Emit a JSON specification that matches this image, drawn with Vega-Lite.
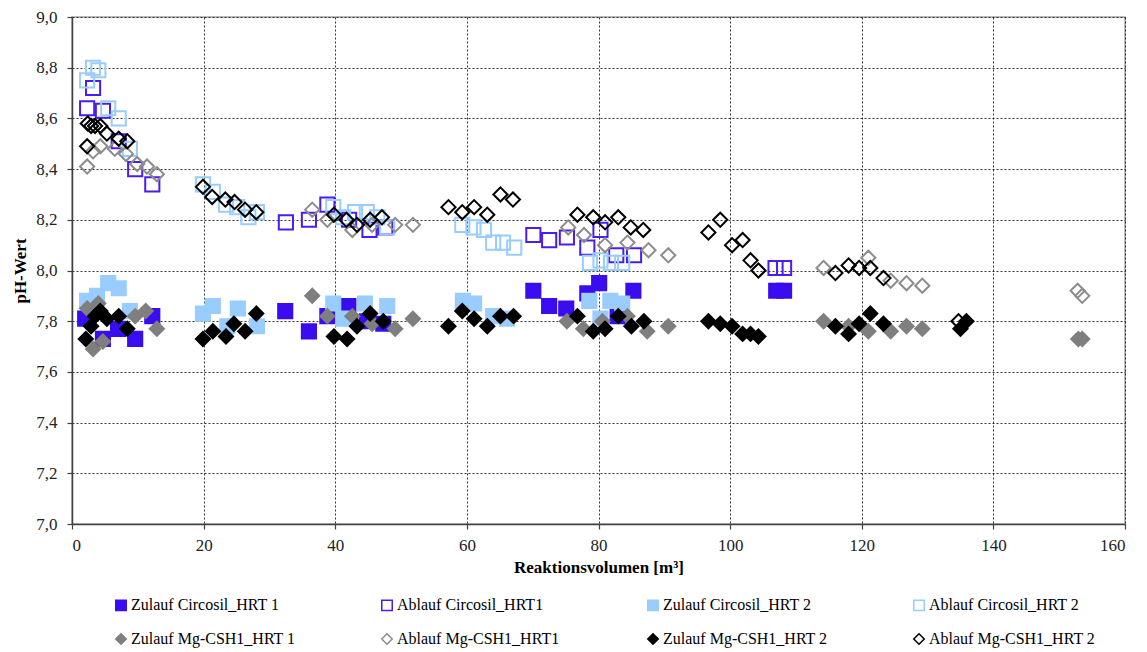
{
  "$schema": "https://vega.github.io/schema/vega-lite/v6.json",
  "width": 1053,
  "height": 507,
  "autosize": {"type": "none"},
  "padding": {"left": 72, "top": 17, "right": 22, "bottom": 128},
  "background": "white",
  "config": {
    "view": {"stroke": "#a6a6a6", "strokeWidth": 1.5},
    "font": "Liberation Serif",
    "axis": {
      "labelFont": "Liberation Serif",
      "labelFontSize": 17,
      "labelColor": "#222222",
      "titleFont": "Liberation Serif",
      "titleFontSize": 17,
      "titleFontWeight": "bold",
      "titleColor": "#000000",
      "domainColor": "#404040",
      "domainWidth": 1.5,
      "tickColor": "#404040",
      "tickSize": 5,
      "tickWidth": 1.2,
      "grid": true,
      "gridColor": "#000000",
      "gridDash": [2, 2],
      "gridWidth": 0.8,
      "gridOpacity": 1
    }
  },
  "data": {
    "values": [
      {"s": "Zulauf Circosil_HRT 1", "x": 2.0, "y": 7.81},
      {"s": "Zulauf Circosil_HRT 1", "x": 4.7, "y": 7.73},
      {"s": "Zulauf Circosil_HRT 1", "x": 7.0, "y": 7.77},
      {"s": "Zulauf Circosil_HRT 1", "x": 9.6, "y": 7.73},
      {"s": "Zulauf Circosil_HRT 1", "x": 12.2, "y": 7.82},
      {"s": "Zulauf Circosil_HRT 1", "x": 32.4, "y": 7.84},
      {"s": "Zulauf Circosil_HRT 1", "x": 36.0, "y": 7.76},
      {"s": "Zulauf Circosil_HRT 1", "x": 38.8, "y": 7.82},
      {"s": "Zulauf Circosil_HRT 1", "x": 42.0, "y": 7.86},
      {"s": "Zulauf Circosil_HRT 1", "x": 44.8, "y": 7.80},
      {"s": "Zulauf Circosil_HRT 1", "x": 47.3, "y": 7.79},
      {"s": "Zulauf Circosil_HRT 1", "x": 70.1, "y": 7.92},
      {"s": "Zulauf Circosil_HRT 1", "x": 72.5, "y": 7.86},
      {"s": "Zulauf Circosil_HRT 1", "x": 75.1, "y": 7.85},
      {"s": "Zulauf Circosil_HRT 1", "x": 78.3, "y": 7.91},
      {"s": "Zulauf Circosil_HRT 1", "x": 80.1, "y": 7.95},
      {"s": "Zulauf Circosil_HRT 1", "x": 82.9, "y": 7.82},
      {"s": "Zulauf Circosil_HRT 1", "x": 85.3, "y": 7.92},
      {"s": "Zulauf Circosil_HRT 1", "x": 107.0, "y": 7.92},
      {"s": "Zulauf Circosil_HRT 1", "x": 108.2, "y": 7.92},

      {"s": "Ablauf Circosil_HRT1", "x": 3.2, "y": 8.72},
      {"s": "Ablauf Circosil_HRT1", "x": 2.3, "y": 8.64},
      {"s": "Ablauf Circosil_HRT1", "x": 4.7, "y": 8.63},
      {"s": "Ablauf Circosil_HRT1", "x": 7.1, "y": 8.51},
      {"s": "Ablauf Circosil_HRT1", "x": 9.6, "y": 8.40},
      {"s": "Ablauf Circosil_HRT1", "x": 12.2, "y": 8.34},
      {"s": "Ablauf Circosil_HRT1", "x": 32.5, "y": 8.19},
      {"s": "Ablauf Circosil_HRT1", "x": 36.0, "y": 8.20},
      {"s": "Ablauf Circosil_HRT1", "x": 38.8, "y": 8.26},
      {"s": "Ablauf Circosil_HRT1", "x": 42.1, "y": 8.20},
      {"s": "Ablauf Circosil_HRT1", "x": 45.2, "y": 8.16},
      {"s": "Ablauf Circosil_HRT1", "x": 47.6, "y": 8.17},
      {"s": "Ablauf Circosil_HRT1", "x": 70.1, "y": 8.14},
      {"s": "Ablauf Circosil_HRT1", "x": 72.5, "y": 8.12},
      {"s": "Ablauf Circosil_HRT1", "x": 75.2, "y": 8.13},
      {"s": "Ablauf Circosil_HRT1", "x": 78.3, "y": 8.09},
      {"s": "Ablauf Circosil_HRT1", "x": 80.3, "y": 8.16},
      {"s": "Ablauf Circosil_HRT1", "x": 82.7, "y": 8.06},
      {"s": "Ablauf Circosil_HRT1", "x": 85.4, "y": 8.06},
      {"s": "Ablauf Circosil_HRT1", "x": 106.9, "y": 8.01},
      {"s": "Ablauf Circosil_HRT1", "x": 108.2, "y": 8.01},

      {"s": "Zulauf Circosil_HRT 2", "x": 2.3, "y": 7.88},
      {"s": "Zulauf Circosil_HRT 2", "x": 3.8, "y": 7.90},
      {"s": "Zulauf Circosil_HRT 2", "x": 5.5, "y": 7.95},
      {"s": "Zulauf Circosil_HRT 2", "x": 7.1, "y": 7.93},
      {"s": "Zulauf Circosil_HRT 2", "x": 8.8, "y": 7.84},
      {"s": "Zulauf Circosil_HRT 2", "x": 19.9, "y": 7.83},
      {"s": "Zulauf Circosil_HRT 2", "x": 21.4, "y": 7.86},
      {"s": "Zulauf Circosil_HRT 2", "x": 23.6, "y": 7.78},
      {"s": "Zulauf Circosil_HRT 2", "x": 25.2, "y": 7.85},
      {"s": "Zulauf Circosil_HRT 2", "x": 28.1, "y": 7.78},
      {"s": "Zulauf Circosil_HRT 2", "x": 39.7, "y": 7.87},
      {"s": "Zulauf Circosil_HRT 2", "x": 41.2, "y": 7.81},
      {"s": "Zulauf Circosil_HRT 2", "x": 44.5, "y": 7.87},
      {"s": "Zulauf Circosil_HRT 2", "x": 47.9, "y": 7.86},
      {"s": "Zulauf Circosil_HRT 2", "x": 59.4, "y": 7.88},
      {"s": "Zulauf Circosil_HRT 2", "x": 61.1, "y": 7.87},
      {"s": "Zulauf Circosil_HRT 2", "x": 64.0, "y": 7.82},
      {"s": "Zulauf Circosil_HRT 2", "x": 66.1, "y": 7.81},
      {"s": "Zulauf Circosil_HRT 2", "x": 78.6, "y": 7.88},
      {"s": "Zulauf Circosil_HRT 2", "x": 80.3, "y": 7.81},
      {"s": "Zulauf Circosil_HRT 2", "x": 81.8, "y": 7.88},
      {"s": "Zulauf Circosil_HRT 2", "x": 83.6, "y": 7.87},

      {"s": "Ablauf Circosil_HRT 2", "x": 2.3, "y": 8.75},
      {"s": "Ablauf Circosil_HRT 2", "x": 3.2, "y": 8.80},
      {"s": "Ablauf Circosil_HRT 2", "x": 4.0, "y": 8.79},
      {"s": "Ablauf Circosil_HRT 2", "x": 5.5, "y": 8.64},
      {"s": "Ablauf Circosil_HRT 2", "x": 7.1, "y": 8.60},
      {"s": "Ablauf Circosil_HRT 2", "x": 8.8, "y": 8.48},
      {"s": "Ablauf Circosil_HRT 2", "x": 19.9, "y": 8.34},
      {"s": "Ablauf Circosil_HRT 2", "x": 21.4, "y": 8.31},
      {"s": "Ablauf Circosil_HRT 2", "x": 23.4, "y": 8.26},
      {"s": "Ablauf Circosil_HRT 2", "x": 25.1, "y": 8.25},
      {"s": "Ablauf Circosil_HRT 2", "x": 26.8, "y": 8.21},
      {"s": "Ablauf Circosil_HRT 2", "x": 28.1, "y": 8.23},
      {"s": "Ablauf Circosil_HRT 2", "x": 39.7, "y": 8.25},
      {"s": "Ablauf Circosil_HRT 2", "x": 41.2, "y": 8.21},
      {"s": "Ablauf Circosil_HRT 2", "x": 43.0, "y": 8.23},
      {"s": "Ablauf Circosil_HRT 2", "x": 44.8, "y": 8.23},
      {"s": "Ablauf Circosil_HRT 2", "x": 46.4, "y": 8.21},
      {"s": "Ablauf Circosil_HRT 2", "x": 47.9, "y": 8.17},
      {"s": "Ablauf Circosil_HRT 2", "x": 59.3, "y": 8.18},
      {"s": "Ablauf Circosil_HRT 2", "x": 61.0, "y": 8.17},
      {"s": "Ablauf Circosil_HRT 2", "x": 62.6, "y": 8.16},
      {"s": "Ablauf Circosil_HRT 2", "x": 64.0, "y": 8.11},
      {"s": "Ablauf Circosil_HRT 2", "x": 65.5, "y": 8.11},
      {"s": "Ablauf Circosil_HRT 2", "x": 67.2, "y": 8.09},
      {"s": "Ablauf Circosil_HRT 2", "x": 78.7, "y": 8.03},
      {"s": "Ablauf Circosil_HRT 2", "x": 80.3, "y": 8.04},
      {"s": "Ablauf Circosil_HRT 2", "x": 81.9, "y": 8.03},
      {"s": "Ablauf Circosil_HRT 2", "x": 83.6, "y": 8.03},

      {"s": "Zulauf Mg-CSH1_HRT 1", "x": 2.3, "y": 7.85},
      {"s": "Zulauf Mg-CSH1_HRT 1", "x": 3.2, "y": 7.69},
      {"s": "Zulauf Mg-CSH1_HRT 1", "x": 4.0, "y": 7.87},
      {"s": "Zulauf Mg-CSH1_HRT 1", "x": 4.7, "y": 7.72},
      {"s": "Zulauf Mg-CSH1_HRT 1", "x": 9.6, "y": 7.82},
      {"s": "Zulauf Mg-CSH1_HRT 1", "x": 11.2, "y": 7.84},
      {"s": "Zulauf Mg-CSH1_HRT 1", "x": 12.9, "y": 7.77},
      {"s": "Zulauf Mg-CSH1_HRT 1", "x": 36.5, "y": 7.90},
      {"s": "Zulauf Mg-CSH1_HRT 1", "x": 38.8, "y": 7.82},
      {"s": "Zulauf Mg-CSH1_HRT 1", "x": 42.6, "y": 7.82},
      {"s": "Zulauf Mg-CSH1_HRT 1", "x": 45.6, "y": 7.79},
      {"s": "Zulauf Mg-CSH1_HRT 1", "x": 49.1, "y": 7.77},
      {"s": "Zulauf Mg-CSH1_HRT 1", "x": 51.8, "y": 7.81},
      {"s": "Zulauf Mg-CSH1_HRT 1", "x": 75.2, "y": 7.80},
      {"s": "Zulauf Mg-CSH1_HRT 1", "x": 77.7, "y": 7.77},
      {"s": "Zulauf Mg-CSH1_HRT 1", "x": 80.6, "y": 7.80},
      {"s": "Zulauf Mg-CSH1_HRT 1", "x": 84.4, "y": 7.82},
      {"s": "Zulauf Mg-CSH1_HRT 1", "x": 87.4, "y": 7.76},
      {"s": "Zulauf Mg-CSH1_HRT 1", "x": 90.6, "y": 7.78},
      {"s": "Zulauf Mg-CSH1_HRT 1", "x": 114.2, "y": 7.80},
      {"s": "Zulauf Mg-CSH1_HRT 1", "x": 118.0, "y": 7.78},
      {"s": "Zulauf Mg-CSH1_HRT 1", "x": 121.0, "y": 7.76},
      {"s": "Zulauf Mg-CSH1_HRT 1", "x": 124.4, "y": 7.76},
      {"s": "Zulauf Mg-CSH1_HRT 1", "x": 126.8, "y": 7.78},
      {"s": "Zulauf Mg-CSH1_HRT 1", "x": 129.2, "y": 7.77},
      {"s": "Zulauf Mg-CSH1_HRT 1", "x": 152.9, "y": 7.73},
      {"s": "Zulauf Mg-CSH1_HRT 1", "x": 153.5, "y": 7.73},

      {"s": "Ablauf Mg-CSH1_HRT1", "x": 2.3, "y": 8.41},
      {"s": "Ablauf Mg-CSH1_HRT1", "x": 3.2, "y": 8.47},
      {"s": "Ablauf Mg-CSH1_HRT1", "x": 4.3, "y": 8.49},
      {"s": "Ablauf Mg-CSH1_HRT1", "x": 6.5, "y": 8.48},
      {"s": "Ablauf Mg-CSH1_HRT1", "x": 8.2, "y": 8.46},
      {"s": "Ablauf Mg-CSH1_HRT1", "x": 9.9, "y": 8.42},
      {"s": "Ablauf Mg-CSH1_HRT1", "x": 11.4, "y": 8.41},
      {"s": "Ablauf Mg-CSH1_HRT1", "x": 12.9, "y": 8.38},
      {"s": "Ablauf Mg-CSH1_HRT1", "x": 36.5, "y": 8.24},
      {"s": "Ablauf Mg-CSH1_HRT1", "x": 38.8, "y": 8.20},
      {"s": "Ablauf Mg-CSH1_HRT1", "x": 42.6, "y": 8.16},
      {"s": "Ablauf Mg-CSH1_HRT1", "x": 45.6, "y": 8.18},
      {"s": "Ablauf Mg-CSH1_HRT1", "x": 49.1, "y": 8.18},
      {"s": "Ablauf Mg-CSH1_HRT1", "x": 51.8, "y": 8.18},
      {"s": "Ablauf Mg-CSH1_HRT1", "x": 75.4, "y": 8.17},
      {"s": "Ablauf Mg-CSH1_HRT1", "x": 77.8, "y": 8.14},
      {"s": "Ablauf Mg-CSH1_HRT1", "x": 81.0, "y": 8.10},
      {"s": "Ablauf Mg-CSH1_HRT1", "x": 84.4, "y": 8.11},
      {"s": "Ablauf Mg-CSH1_HRT1", "x": 87.6, "y": 8.08},
      {"s": "Ablauf Mg-CSH1_HRT1", "x": 90.6, "y": 8.06},
      {"s": "Ablauf Mg-CSH1_HRT1", "x": 114.2, "y": 8.01},
      {"s": "Ablauf Mg-CSH1_HRT1", "x": 121.0, "y": 8.05},
      {"s": "Ablauf Mg-CSH1_HRT1", "x": 124.4, "y": 7.96},
      {"s": "Ablauf Mg-CSH1_HRT1", "x": 126.8, "y": 7.95},
      {"s": "Ablauf Mg-CSH1_HRT1", "x": 129.2, "y": 7.94},
      {"s": "Ablauf Mg-CSH1_HRT1", "x": 152.8, "y": 7.92},
      {"s": "Ablauf Mg-CSH1_HRT1", "x": 153.5, "y": 7.90},

      {"s": "Zulauf Mg-CSH1_HRT 2", "x": 2.1, "y": 7.73},
      {"s": "Zulauf Mg-CSH1_HRT 2", "x": 2.9, "y": 7.78},
      {"s": "Zulauf Mg-CSH1_HRT 2", "x": 3.5, "y": 7.82},
      {"s": "Zulauf Mg-CSH1_HRT 2", "x": 4.3, "y": 7.84},
      {"s": "Zulauf Mg-CSH1_HRT 2", "x": 5.3, "y": 7.81},
      {"s": "Zulauf Mg-CSH1_HRT 2", "x": 7.1, "y": 7.82},
      {"s": "Zulauf Mg-CSH1_HRT 2", "x": 8.4, "y": 7.77},
      {"s": "Zulauf Mg-CSH1_HRT 2", "x": 19.9, "y": 7.73},
      {"s": "Zulauf Mg-CSH1_HRT 2", "x": 21.4, "y": 7.76},
      {"s": "Zulauf Mg-CSH1_HRT 2", "x": 23.4, "y": 7.74},
      {"s": "Zulauf Mg-CSH1_HRT 2", "x": 24.6, "y": 7.79},
      {"s": "Zulauf Mg-CSH1_HRT 2", "x": 26.3, "y": 7.76},
      {"s": "Zulauf Mg-CSH1_HRT 2", "x": 28.0, "y": 7.83},
      {"s": "Zulauf Mg-CSH1_HRT 2", "x": 39.8, "y": 7.74},
      {"s": "Zulauf Mg-CSH1_HRT 2", "x": 41.8, "y": 7.73},
      {"s": "Zulauf Mg-CSH1_HRT 2", "x": 43.3, "y": 7.78},
      {"s": "Zulauf Mg-CSH1_HRT 2", "x": 45.3, "y": 7.83},
      {"s": "Zulauf Mg-CSH1_HRT 2", "x": 47.3, "y": 7.80},
      {"s": "Zulauf Mg-CSH1_HRT 2", "x": 57.2, "y": 7.78},
      {"s": "Zulauf Mg-CSH1_HRT 2", "x": 59.3, "y": 7.84},
      {"s": "Zulauf Mg-CSH1_HRT 2", "x": 61.1, "y": 7.81},
      {"s": "Zulauf Mg-CSH1_HRT 2", "x": 63.1, "y": 7.78},
      {"s": "Zulauf Mg-CSH1_HRT 2", "x": 65.1, "y": 7.82},
      {"s": "Zulauf Mg-CSH1_HRT 2", "x": 67.1, "y": 7.82},
      {"s": "Zulauf Mg-CSH1_HRT 2", "x": 76.8, "y": 7.82},
      {"s": "Zulauf Mg-CSH1_HRT 2", "x": 79.2, "y": 7.76},
      {"s": "Zulauf Mg-CSH1_HRT 2", "x": 81.0, "y": 7.77},
      {"s": "Zulauf Mg-CSH1_HRT 2", "x": 83.0, "y": 7.82},
      {"s": "Zulauf Mg-CSH1_HRT 2", "x": 85.0, "y": 7.78},
      {"s": "Zulauf Mg-CSH1_HRT 2", "x": 86.9, "y": 7.80},
      {"s": "Zulauf Mg-CSH1_HRT 2", "x": 96.7, "y": 7.80},
      {"s": "Zulauf Mg-CSH1_HRT 2", "x": 98.5, "y": 7.79},
      {"s": "Zulauf Mg-CSH1_HRT 2", "x": 100.3, "y": 7.78},
      {"s": "Zulauf Mg-CSH1_HRT 2", "x": 101.9, "y": 7.75},
      {"s": "Zulauf Mg-CSH1_HRT 2", "x": 103.1, "y": 7.75},
      {"s": "Zulauf Mg-CSH1_HRT 2", "x": 104.3, "y": 7.74},
      {"s": "Zulauf Mg-CSH1_HRT 2", "x": 116.0, "y": 7.78},
      {"s": "Zulauf Mg-CSH1_HRT 2", "x": 118.0, "y": 7.75},
      {"s": "Zulauf Mg-CSH1_HRT 2", "x": 119.6, "y": 7.79},
      {"s": "Zulauf Mg-CSH1_HRT 2", "x": 121.3, "y": 7.83},
      {"s": "Zulauf Mg-CSH1_HRT 2", "x": 123.3, "y": 7.79},
      {"s": "Zulauf Mg-CSH1_HRT 2", "x": 135.0, "y": 7.77},
      {"s": "Zulauf Mg-CSH1_HRT 2", "x": 135.9, "y": 7.80},

      {"s": "Ablauf Mg-CSH1_HRT 2", "x": 2.3, "y": 8.49},
      {"s": "Ablauf Mg-CSH1_HRT 2", "x": 2.4, "y": 8.58},
      {"s": "Ablauf Mg-CSH1_HRT 2", "x": 2.9, "y": 8.57},
      {"s": "Ablauf Mg-CSH1_HRT 2", "x": 3.5, "y": 8.57},
      {"s": "Ablauf Mg-CSH1_HRT 2", "x": 4.3, "y": 8.57},
      {"s": "Ablauf Mg-CSH1_HRT 2", "x": 5.3, "y": 8.54},
      {"s": "Ablauf Mg-CSH1_HRT 2", "x": 7.1, "y": 8.52},
      {"s": "Ablauf Mg-CSH1_HRT 2", "x": 8.4, "y": 8.51},
      {"s": "Ablauf Mg-CSH1_HRT 2", "x": 19.9, "y": 8.33},
      {"s": "Ablauf Mg-CSH1_HRT 2", "x": 21.3, "y": 8.29},
      {"s": "Ablauf Mg-CSH1_HRT 2", "x": 23.3, "y": 8.28},
      {"s": "Ablauf Mg-CSH1_HRT 2", "x": 24.7, "y": 8.27},
      {"s": "Ablauf Mg-CSH1_HRT 2", "x": 26.3, "y": 8.24},
      {"s": "Ablauf Mg-CSH1_HRT 2", "x": 28.0, "y": 8.23},
      {"s": "Ablauf Mg-CSH1_HRT 2", "x": 39.8, "y": 8.22},
      {"s": "Ablauf Mg-CSH1_HRT 2", "x": 41.7, "y": 8.20},
      {"s": "Ablauf Mg-CSH1_HRT 2", "x": 43.3, "y": 8.18},
      {"s": "Ablauf Mg-CSH1_HRT 2", "x": 45.3, "y": 8.20},
      {"s": "Ablauf Mg-CSH1_HRT 2", "x": 47.1, "y": 8.21},
      {"s": "Ablauf Mg-CSH1_HRT 2", "x": 57.2, "y": 8.25},
      {"s": "Ablauf Mg-CSH1_HRT 2", "x": 59.3, "y": 8.23},
      {"s": "Ablauf Mg-CSH1_HRT 2", "x": 61.1, "y": 8.25},
      {"s": "Ablauf Mg-CSH1_HRT 2", "x": 63.1, "y": 8.22},
      {"s": "Ablauf Mg-CSH1_HRT 2", "x": 65.1, "y": 8.30},
      {"s": "Ablauf Mg-CSH1_HRT 2", "x": 67.0, "y": 8.28},
      {"s": "Ablauf Mg-CSH1_HRT 2", "x": 76.8, "y": 8.22},
      {"s": "Ablauf Mg-CSH1_HRT 2", "x": 79.2, "y": 8.21},
      {"s": "Ablauf Mg-CSH1_HRT 2", "x": 81.0, "y": 8.19},
      {"s": "Ablauf Mg-CSH1_HRT 2", "x": 83.0, "y": 8.21},
      {"s": "Ablauf Mg-CSH1_HRT 2", "x": 84.9, "y": 8.17},
      {"s": "Ablauf Mg-CSH1_HRT 2", "x": 86.8, "y": 8.16},
      {"s": "Ablauf Mg-CSH1_HRT 2", "x": 96.7, "y": 8.15},
      {"s": "Ablauf Mg-CSH1_HRT 2", "x": 98.5, "y": 8.20},
      {"s": "Ablauf Mg-CSH1_HRT 2", "x": 100.3, "y": 8.10},
      {"s": "Ablauf Mg-CSH1_HRT 2", "x": 101.9, "y": 8.12},
      {"s": "Ablauf Mg-CSH1_HRT 2", "x": 103.1, "y": 8.04},
      {"s": "Ablauf Mg-CSH1_HRT 2", "x": 104.3, "y": 8.00},
      {"s": "Ablauf Mg-CSH1_HRT 2", "x": 116.0, "y": 7.99},
      {"s": "Ablauf Mg-CSH1_HRT 2", "x": 118.0, "y": 8.02},
      {"s": "Ablauf Mg-CSH1_HRT 2", "x": 119.6, "y": 8.01},
      {"s": "Ablauf Mg-CSH1_HRT 2", "x": 121.3, "y": 8.01},
      {"s": "Ablauf Mg-CSH1_HRT 2", "x": 123.3, "y": 7.97},
      {"s": "Ablauf Mg-CSH1_HRT 2", "x": 134.7, "y": 7.80}
    ]
  },
  "mark": {"type": "point", "size": 200, "strokeWidth": 2, "opacity": 1},
  "encoding": {
    "x": {
      "field": "x",
      "type": "quantitative",
      "scale": {"domain": [0, 160], "nice": false, "zero": false},
      "axis": {
        "title": "Reaktionsvolumen [m³]",
        "values": [0, 20, 40, 60, 80, 100, 120, 140, 160],
        "labelFont": "Liberation Serif",
        "labelFontSize": 17,
        "titleFont": "Liberation Serif",
        "labelPadding": 8,
        "titlePadding": 6
      }
    },
    "y": {
      "field": "y",
      "type": "quantitative",
      "scale": {"domain": [7, 9], "nice": false, "zero": false},
      "axis": {
        "title": "pH-Wert",
        "values": [7, 7.2, 7.4, 7.6, 7.8, 8, 8.2, 8.4, 8.6, 8.8, 9],
        "labelExpr": "replace(format(datum.value, '.1f'), '.', ',')",
        "labelFont": "Liberation Serif",
        "labelFontSize": 17,
        "titleFont": "Liberation Serif",
        "labelPadding": 10,
        "titlePadding": 6
      }
    },
    "shape": {
      "field": "s",
      "type": "nominal",
      "scale": {
        "domain": ["Zulauf Circosil_HRT 1", "Ablauf Circosil_HRT1", "Zulauf Circosil_HRT 2", "Ablauf Circosil_HRT 2", "Zulauf Mg-CSH1_HRT 1", "Ablauf Mg-CSH1_HRT1", "Zulauf Mg-CSH1_HRT 2", "Ablauf Mg-CSH1_HRT 2"],
        "range": ["square", "square", "square", "square", "diamond", "diamond", "diamond", "diamond"]
      },
      "legend": {
        "title": null,
        "orient": "none",
        "legendX": 41,
        "legendY": 580,
        "direction": "horizontal",
        "columns": 4,
        "gridAlign": "all",
        "columnPadding": 80,
        "rowPadding": 16,
        "labelFont": "Liberation Serif",
        "labelFontSize": 16,
        "labelColor": "#000000",
        "labelLimit": 300,
        "labelOffset": 2,
        "symbolSize": 110,
        "symbolStrokeWidth": 1.5
      }
    },
    "fill": {
      "field": "s",
      "type": "nominal",
      "scale": {
        "domain": ["Zulauf Circosil_HRT 1", "Ablauf Circosil_HRT1", "Zulauf Circosil_HRT 2", "Ablauf Circosil_HRT 2", "Zulauf Mg-CSH1_HRT 1", "Ablauf Mg-CSH1_HRT1", "Zulauf Mg-CSH1_HRT 2", "Ablauf Mg-CSH1_HRT 2"],
        "range": ["#3a0cf0", "transparent", "#99ccff", "transparent", "#7f7f7f", "transparent", "#000000", "transparent"]
      },
      "legend": {
        "title": null,
        "orient": "none",
        "legendX": 41,
        "legendY": 580,
        "direction": "horizontal",
        "columns": 4,
        "gridAlign": "all",
        "columnPadding": 80,
        "rowPadding": 16,
        "labelFont": "Liberation Serif",
        "labelFontSize": 16,
        "labelColor": "#000000",
        "labelLimit": 300,
        "labelOffset": 2,
        "symbolSize": 110,
        "symbolStrokeWidth": 1.5
      }
    },
    "stroke": {
      "field": "s",
      "type": "nominal",
      "scale": {
        "domain": ["Zulauf Circosil_HRT 1", "Ablauf Circosil_HRT1", "Zulauf Circosil_HRT 2", "Ablauf Circosil_HRT 2", "Zulauf Mg-CSH1_HRT 1", "Ablauf Mg-CSH1_HRT1", "Zulauf Mg-CSH1_HRT 2", "Ablauf Mg-CSH1_HRT 2"],
        "range": ["#3a0cf0", "#4a1cf5", "#99ccff", "#99ccff", "#7f7f7f", "#8c8c8c", "#000000", "#000000"]
      },
      "legend": {
        "title": null,
        "orient": "none",
        "legendX": 41,
        "legendY": 580,
        "direction": "horizontal",
        "columns": 4,
        "gridAlign": "all",
        "columnPadding": 80,
        "rowPadding": 16,
        "labelFont": "Liberation Serif",
        "labelFontSize": 16,
        "labelColor": "#000000",
        "labelLimit": 300,
        "labelOffset": 2,
        "symbolSize": 110,
        "symbolStrokeWidth": 1.5
      }
    }
  }
}
